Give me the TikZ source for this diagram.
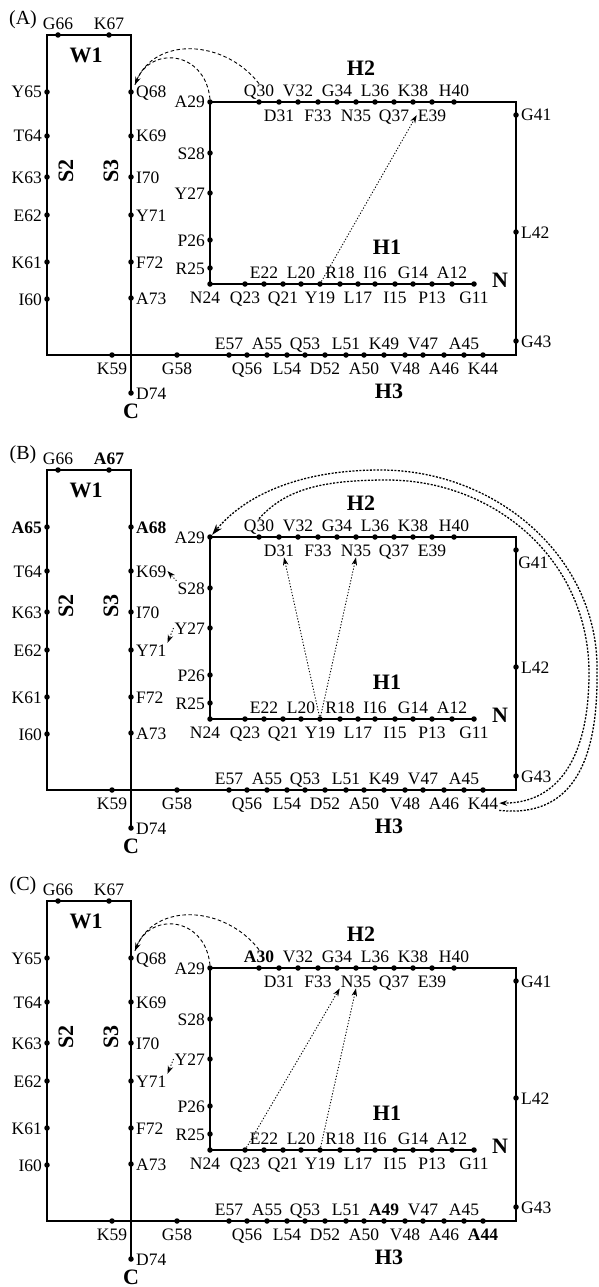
\documentclass[tikz,border=0pt]{standalone}
\usepackage{fontspec}
\setmainfont{Liberation Serif}
\usetikzlibrary{arrows.meta, positioning, calc}

\tikzset{
  res/.style={circle, fill=black, inner sep=0pt, minimum size=5.5pt},
  lab/.style={font=\fontsize{17.5}{19}\selectfont, inner sep=1pt, text height=12pt, text depth=0pt},
  lup/.style={above=1pt of #1},
  ldn/.style={below=3pt of #1},
  llf/.style={left=1pt of #1},
  lrt/.style={right=1pt of #1},
  ldnl/.style={below=3pt of #1, xshift=-5pt},
  lse/.style={below right=3pt and -1pt of #1},
  backbone/.style={line width=1.2pt},
  hel/.style={font=\fontsize{22}{24}\selectfont\bfseries, inner sep=0pt},
  paneltag/.style={font=\fontsize{20}{22}\selectfont, inner sep=0pt},
  head/.style={-{Stealth[length=8pt, width=5.5pt]}},
  bighead/.style={-{Stealth[length=11pt, width=7pt]}},
  dashy/.style={dash pattern=on 3.5pt off 2.5pt, line width=0.9pt},
  dotty/.style={dash pattern=on 1.2pt off 1.8pt, line width=0.9pt},
  arcdot/.style={dash pattern=on 2pt off 1.5pt, line width=1.3pt},
}

% one panel: #1 letter, #2 vertical offset, #3-#8 labels that change, #9 place of G41
\newcommand{\helixpanel}[9]{%
  \begin{scope}[shift={(0,#2)}]
    \node[paneltag] (#1-tag) at (23,20) {(#1)};
    \foreach \x/\y/\n/\t/\p in {
      474/284/11/G11/ldn, 452/284/12/A12/lup, 432/284/13/P13/ldn, 413/284/14/G14/lup,
      395/284/15/I15/ldn, 375/284/16/I16/lup, 358/284/17/L17/ldn, 340/284/18/R18/lup,
      320/284/19/Y19/ldn, 301/284/20/L20/lup, 283/284/21/Q21/ldn, 264/284/22/E22/lup,
      245/284/23/Q23/ldn, 210/284/24/N24/ldnl,
      210/268/25/R25/llf, 210/240/26/P26/llf, 210/193/27/Y27/llf, 210/153/28/S28/llf,
      210/102/29/A29/llf,
      259/102/30/#6/lup, 279/102/31/D31/ldn, 298/102/32/V32/lup, 318/102/33/F33/ldn,
      337/102/34/G34/lup, 356/102/35/N35/ldn, 375/102/36/L36/lup, 394/102/37/Q37/ldn,
      413/102/38/K38/lup, 432/102/39/E39/ldn, 454/102/40/H40/lup,
      516/115/41/G41/#9, 516/232/42/L42/lrt, 516/341/43/G43/lrt,
      483/355/44/#8/ldn, 464/355/45/A45/lup, 444/355/46/A46/ldn, 423/355/47/V47/lup,
      405/355/48/V48/ldn, 384/355/49/#7/lup, 364/355/50/A50/ldn, 346/355/51/L51/lup,
      325/355/52/D52/ldn, 305/355/53/Q53/lup, 287/355/54/L54/ldn, 267/355/55/A55/lup,
      247/355/56/Q56/ldn, 229/355/57/E57/lup, 177/355/58/G58/ldn, 112/355/59/K59/ldn,
      47/299/60/I60/llf, 47/262/61/K61/llf, 47/215/62/E62/llf, 47/177/63/K63/llf,
      47/136/64/T64/llf, 47/92/65/#4/llf,
      58/35/66/G66/lup, 109/35/67/#3/lup,
      131/92/68/#5/lrt, 131/136/69/K69/lrt, 131/177/70/I70/lrt, 131/215/71/Y71/lrt,
      131/262/72/F72/lrt, 131/298/73/A73/lrt, 131/393/74/D74/lrt}{
      \node[res] (#1-\n) at (\x,\y) {};
      \node[lab, \p=#1-\n] (#1-\n-t) {\t};
    }
    \coordinate (#1-ne) at (516,102);
    \coordinate (#1-se) at (516,355);
    \coordinate (#1-sw) at (47,355);
    \coordinate (#1-nw) at (47,35);
    \coordinate (#1-top) at (131,35);
    \draw[backbone] (#1-11.center) -- (#1-24.center) -- (#1-29.center) -- (#1-ne) -- (#1-se)
      -- (#1-sw) -- (#1-nw) -- (#1-top) -- (#1-74.center);
    \node[hel] (#1-W1) at (86,55) {W1};
    \node[hel, rotate=90] (#1-S2) at (66,171) {S2};
    \node[hel, rotate=90] (#1-S3) at (111,171) {S3};
    \node[hel] (#1-H1) at (387,247) {H1};
    \node[hel] (#1-H2) at (361,68) {H2};
    \node[hel] (#1-H3) at (389,391) {H3};
    \node[hel] (#1-N) at (500,280) {N};
    \node[hel] (#1-C) at (131,411) {C};
  \end{scope}}

\begin{document}
\begin{tikzpicture}[x=1pt, y=-1pt]
  \useasboundingbox (0,0) rectangle (598,1287);

  \helixpanel{A}{0}{K67}{Y65}{Q68}{Q30}{K49}{K44}{lrt}
  \helixpanel{B}{435}{\textbf{A67}}{\textbf{A65}}{\textbf{A68}}{Q30}{K49}{K44}{lse}
  \helixpanel{C}{866}{K67}{Y65}{Q68}{\textbf{A30}}{\textbf{A49}}{\textbf{A44}}{lrt}

  % (A) contacts
  \draw[dashy, head] (A-30-t.north) .. controls +(-35,-45) and +(20,-48) .. (A-68-t.north west);
  \draw[dashy] (A-29.north) .. controls +(-5,-50) and +(12,-40) .. (A-68-t.north west);
  \draw[dotty, head] (A-19) -- (A-39-t.west);

  % (B) contacts
  \begin{scope}[shift={(0,435)}]
    \draw[arcdot, bighead] (B-44-t.south east) .. controls (570,383) and (598,330) .. (597,238)
      .. controls (600,126) and (500,35) .. (380,35) .. controls (300,35) and (245,60) .. (B-29.north east);
    \draw[arcdot, head] (B-30-t.north) .. controls (285,55) and (320,45) .. (387,45)
      .. controls (495,45) and (589,125) .. (589,238) .. controls (589,320) and (560,368) .. (B-44-t.east);
  \end{scope}
  \draw[dotty, head] (B-28-t.north west) -- (B-69-t.east);
  \draw[dotty, head] (B-27-t.west) -- (B-71-t.north east);
  \draw[dotty, head] (B-19) -- ($(B-31-t.south)+(5,0)$);
  \draw[dotty, head] (B-19) -- (B-35-t.south);

  % (C) contacts
  \draw[dashy, head] (C-30-t.north) .. controls +(-35,-45) and +(20,-48) .. (C-68-t.north west);
  \draw[dashy] (C-29.north) .. controls +(-5,-50) and +(12,-40) .. (C-68-t.north west);
  \draw[dotty, head] (C-27-t.west) -- (C-71-t.north east);
  \draw[dotty, head] (C-23) -- (C-35-t.south west);
  \draw[dotty, head] (C-19) -- (C-35-t.south);
\end{tikzpicture}
\end{document}
